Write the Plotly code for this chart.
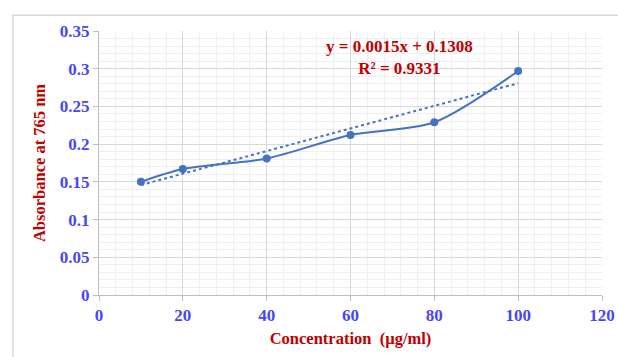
import plotly.graph_objects as go

conc = [10, 20, 40, 60, 80, 100]
absorb = [0.150, 0.167, 0.181, 0.212, 0.229, 0.297]
slope = 0.0015
intercept = 0.1308
r2 = 0.9331
x_ticks = [0, 20, 40, 60, 80, 100, 120]
y_ticks = [0, 0.05, 0.1, 0.15, 0.2, 0.25, 0.3, 0.35]
y_labels = ["0", "0.05", "0.1", "0.15", "0.2", "0.25", "0.3", "0.35"]

trend_x = [conc[0], conc[-1]]
trend_y = [slope * x + intercept for x in trend_x]

blue = "#4472C4"
tick_col = "#4747f5"
red = "#c00000"
font = "Liberation Serif"

fig = go.Figure()
fig.add_trace(go.Scatter(x=trend_x, y=trend_y, mode="lines",
                         line=dict(color=blue, width=2, dash="dot"),
                         hoverinfo="skip", showlegend=False))
fig.add_trace(go.Scatter(x=conc, y=absorb, mode="lines+markers",
                         line=dict(color=blue, width=2, shape="spline", smoothing=0.8),
                         marker=dict(color=blue, size=8), showlegend=False))

fig.add_annotation(x=0.598, y=0.898, xref="paper", yref="paper",
                   xanchor="center", yanchor="middle",
                   text=f"<b>y = {slope}x + {intercept}</b><br><b>R² = {r2}</b>",
                   showarrow=False, align="center",
                   font=dict(family=font, size=17, color=red))

fig.add_shape(type="rect", xref="paper", yref="paper",
              x0=-0.171, x1=1.2, y0=-0.5, y1=1.06,
              line=dict(color="#d9d9d9", width=1.5), layer="below")

fig.update_layout(
    width=618, height=357,
    margin=dict(l=99, r=16, t=31, b=62, autoexpand=False),
    paper_bgcolor="white", plot_bgcolor="white",
    xaxis=dict(range=[0, 120], tickvals=x_ticks,
               ticktext=[f"<b>{v}</b>" for v in x_ticks],
               automargin=False,
               showgrid=True, gridcolor="#d9d9d9", gridwidth=1,
               minor=dict(dtick=4, showgrid=True, gridcolor="#efefef", gridwidth=1),
               showline=True, linecolor="#bfbfbf", linewidth=1,
               ticks="outside", ticklen=5, tickcolor="#bfbfbf",
               zeroline=False,
               tickfont=dict(family=font, size=17, color=tick_col),
               title=dict(text="<b>Concentration  (µg/ml)</b>", standoff=8,
                          font=dict(family=font, size=16.5, color=red))),
    yaxis=dict(range=[0, 0.35], tickvals=y_ticks,
               ticktext=[f"<b>{t}</b>" for t in y_labels],
               automargin=False,
               showgrid=True, gridcolor="#d9d9d9", gridwidth=1,
               minor=dict(dtick=0.01, showgrid=True, gridcolor="#efefef", gridwidth=1),
               showline=True, linecolor="#bfbfbf", linewidth=1,
               ticks="outside", ticklen=5, tickcolor="#bfbfbf",
               zeroline=False,
               tickfont=dict(family=font, size=17, color=tick_col),
               title=dict(text="<b>Absorbance at 765 nm</b>", standoff=10,
                          font=dict(family=font, size=16.5, color=red))),
)

fig.write_html("out.html")
